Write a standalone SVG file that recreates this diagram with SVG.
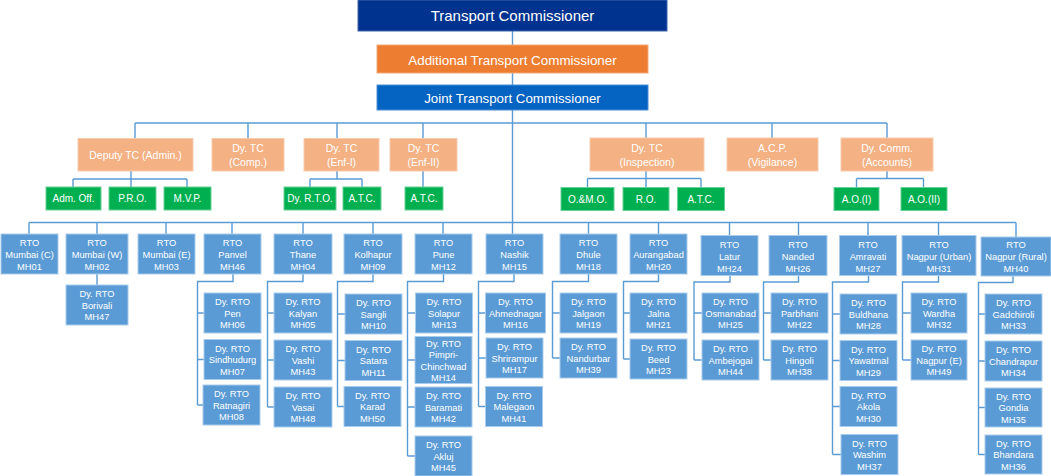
<svg xmlns="http://www.w3.org/2000/svg" width="1051" height="476" viewBox="0 0 1051 476">
<style>
.c{fill:none;stroke:#5B9BD5;stroke-width:1.4}
.b{fill:#5B9BD5;stroke:#A9CBEC;stroke-width:1}
.o{fill:#F4B183;stroke:#F8CBAD;stroke-width:1}
.g{fill:#00B050;stroke:#66D096;stroke-width:1}
text{font-family:"Liberation Sans",Arial,sans-serif;fill:#FFFFFF;text-anchor:middle}
.s{font-size:9.3px}
.m{font-size:10.5px}
.n{font-size:10px}
</style>
<rect width="1051" height="476" fill="#FFFFFF"/>
<g id="connectors">
<path class="c" d="M512.5,31V234"/>
<path class="c" d="M135,123H887M135,123V139M248,123V139M337,123V139M423,123V139M646,123V138M772,123V138M887,123V138"/>
<path class="c" d="M131,171V179M73,179H187M73,179V187M131,179V187M187,179V187"/>
<path class="c" d="M337,171V179M310,179H362M310,179V187M362,179V187"/>
<path class="c" d="M423,171V187"/>
<path class="c" d="M646,171V178.5M587.5,178.5H701M587.5,178.5V187.5M646,178.5V187.5M701,178.5V187.5"/>
<path class="c" d="M887,171V178.5M856.5,178.5H923.5M856.5,178.5V187.5M923.5,178.5V187.5"/>
<path class="c" d="M29,222.5H1016M29,222.5V234M97,222.5V234M166,222.5V234M232,222.5V234M303,222.5V234M373,222.5V234M443,222.5V234M588.5,222.5V234M658.5,222.5V234M729.5,222.5V235.5M798.5,222.5V235.5M868,222.5V235.5M938.5,222.5V235.5M1016,222.5V237"/>
<path class="c" d="M97,274V285"/>
<path class="c" d="M233,274V281.5H197.5V405M197.5,313H204M197.5,359.5H204M197.5,405H203"/>
<path class="c" d="M303,274V281.5H267.5V407M267.5,313H274M267.5,360H274M267.5,407H274"/>
<path class="c" d="M373,274V281.5H337.5V406.5M337.5,314H345M337.5,360.5H345M337.5,406.5H344"/>
<path class="c" d="M443.5,274V281.5H407.5V456M407.5,313H415.5M407.5,360H415M407.5,407H415M407.5,456H415"/>
<path class="c" d="M514,274V281.5H478.5V406.5M478.5,313H485.5M478.5,358H486M478.5,406.5H485.5"/>
<path class="c" d="M588.5,274V281.5H552.5V358M552.5,313H560M552.5,358H560"/>
<path class="c" d="M658.5,274V281.5H623.5V359M623.5,313H630M623.5,359H630"/>
<path class="c" d="M730,275.5V282H694V360M694,313H702M694,360H702"/>
<path class="c" d="M798.5,275.5V282H763.5V360M763.5,313H771M763.5,360H771"/>
<path class="c" d="M868.5,275.5V282H832.5V454.5M832.5,314H840M832.5,360.5H840M832.5,406.5H840M832.5,454.5H841"/>
<path class="c" d="M938.5,275.5V282H902.5V360M902.5,313H911M902.5,360H911"/>
<path class="c" d="M1013,276V282.5H978.5V454.5M978.5,314H985M978.5,361H985M978.5,407.5H985M978.5,454.5H985"/>
</g>
<g id="tc"><rect x="358" y="0" width="309" height="31" fill="#00338F" stroke="#3F64AE" stroke-width="1"/><text x="512.5" y="21" style="font-size:15px">Transport Commissioner</text></g>
<g id="atc"><rect x="377" y="45" width="271" height="28" fill="#ED7D31" stroke="#F3A877" stroke-width="1"/><text x="512.5" y="65" style="font-size:13.4px">Additional Transport Commissioner</text></g>
<g id="jtc"><rect x="377" y="85" width="271" height="25" fill="#0563C1" stroke="#4A8FD6" stroke-width="1"/><text x="512.5" y="103" style="font-size:13.3px">Joint Transport Commissioner</text></g>
<g id="dytc-admin"><rect class="o" x="78" y="138.5" width="115" height="32.5"/><text class="m" x="135.5" y="158.5">Deputy TC (Admin.)</text></g>
<g id="dytc-comp"><rect class="o" x="212" y="138.5" width="72" height="32.5"/><text class="m" x="248" y="152">Dy. TC<tspan x="248" dy="14.3">(Comp.)</tspan></text></g>
<g id="dytc-enf1"><rect class="o" x="304" y="138.5" width="75" height="32.5"/><text class="m" x="341.5" y="152">Dy. TC<tspan x="341.5" dy="14.3">(Enf-I)</tspan></text></g>
<g id="dytc-enf2"><rect class="o" x="390" y="138.5" width="67" height="32.5"/><text class="m" x="423.5" y="152">Dy. TC<tspan x="423.5" dy="14.3">(Enf-II)</tspan></text></g>
<g id="dytc-insp"><rect class="o" x="590" y="138" width="114" height="33"/><text class="m" x="647" y="151.5">Dy. TC<tspan x="647" dy="14.3">(Inspection)</tspan></text></g>
<g id="acp"><rect class="o" x="727" y="138" width="91" height="33"/><text class="m" x="772.5" y="151.5">A.C.P.<tspan x="772.5" dy="14.3">(Vigilance)</tspan></text></g>
<g id="dycomm"><rect class="o" x="841" y="138" width="92" height="33"/><text class="m" x="887" y="151.5">Dy. Comm.<tspan x="887" dy="14.3">(Accounts)</tspan></text></g>
<g id="admoff"><rect class="g" x="46" y="187" width="55" height="23"/><text class="n" x="73.5" y="202">Adm. Off.</text></g>
<g id="pro"><rect class="g" x="109" y="187" width="47" height="23"/><text class="n" x="132.5" y="202">P.R.O.</text></g>
<g id="mvp"><rect class="g" x="164" y="187" width="47" height="23"/><text class="n" x="187.5" y="202">M.V.P.</text></g>
<g id="dyrto"><rect class="g" x="284" y="187" width="52" height="23"/><text class="n" x="310" y="202">Dy. R.T.O.</text></g>
<g id="atc1"><rect class="g" x="343" y="187" width="38" height="23"/><text class="n" x="362" y="202">A.T.C.</text></g>
<g id="atc2"><rect class="g" x="405" y="187" width="38" height="23"/><text class="n" x="424" y="202">A.T.C.</text></g>
<g id="omo"><rect class="g" x="561" y="187.5" width="53" height="23"/><text class="n" x="587.5" y="202.5">O.&amp;M.O.</text></g>
<g id="ro"><rect class="g" x="623" y="187.5" width="46" height="23"/><text class="n" x="646" y="202.5">R.O.</text></g>
<g id="atc3"><rect class="g" x="677.5" y="187.5" width="47" height="23"/><text class="n" x="701" y="202.5">A.T.C.</text></g>
<g id="ao1"><rect class="g" x="834" y="187.5" width="45" height="23"/><text class="n" x="856.5" y="202.5">A.O.(I)</text></g>
<g id="ao2"><rect class="g" x="901" y="187.5" width="46" height="23"/><text class="n" x="924" y="202.5">A.O.(II)</text></g>
<g id="rto-mh01"><rect class="b" x="1" y="234" width="57" height="40"/><text class="s" x="29.5" y="246">RTO<tspan x="29.5" dy="12">Mumbai (C)</tspan><tspan x="29.5" dy="12">MH01</tspan></text></g>
<g id="rto-mh02"><rect class="b" x="66" y="234" width="62" height="40"/><text class="s" x="97" y="246">RTO<tspan x="97" dy="12">Mumbai (W)</tspan><tspan x="97" dy="12">MH02</tspan></text></g>
<g id="rto-mh03"><rect class="b" x="138" y="234" width="57" height="40"/><text class="s" x="166.5" y="246">RTO<tspan x="166.5" dy="12">Mumbai (E)</tspan><tspan x="166.5" dy="12">MH03</tspan></text></g>
<g id="rto-mh46"><rect class="b" x="204" y="234" width="57" height="40"/><text class="s" x="232.5" y="246">RTO<tspan x="232.5" dy="12">Panvel</tspan><tspan x="232.5" dy="12">MH46</tspan></text></g>
<g id="rto-mh04"><rect class="b" x="274" y="234" width="58" height="40"/><text class="s" x="303" y="246">RTO<tspan x="303" dy="12">Thane</tspan><tspan x="303" dy="12">MH04</tspan></text></g>
<g id="rto-mh09"><rect class="b" x="344" y="234" width="58" height="40"/><text class="s" x="373" y="246">RTO<tspan x="373" dy="12">Kolhapur</tspan><tspan x="373" dy="12">MH09</tspan></text></g>
<g id="rto-mh12"><rect class="b" x="415" y="234" width="57" height="40"/><text class="s" x="443.5" y="246">RTO<tspan x="443.5" dy="12">Pune</tspan><tspan x="443.5" dy="12">MH12</tspan></text></g>
<g id="rto-mh15"><rect class="b" x="486" y="234" width="57" height="40"/><text class="s" x="514.5" y="246">RTO<tspan x="514.5" dy="12">Nashik</tspan><tspan x="514.5" dy="12">MH15</tspan></text></g>
<g id="rto-mh18"><rect class="b" x="560" y="234" width="57" height="40"/><text class="s" x="588.5" y="246">RTO<tspan x="588.5" dy="12">Dhule</tspan><tspan x="588.5" dy="12">MH18</tspan></text></g>
<g id="rto-mh20"><rect class="b" x="630" y="234" width="57" height="40"/><text class="s" x="658.5" y="246">RTO<tspan x="658.5" dy="12">Aurangabad</tspan><tspan x="658.5" dy="12">MH20</tspan></text></g>
<g id="rto-mh24"><rect class="b" x="701" y="235.5" width="57" height="40"/><text class="s" x="729.5" y="247.5">RTO<tspan x="729.5" dy="12">Latur</tspan><tspan x="729.5" dy="12">MH24</tspan></text></g>
<g id="rto-mh26"><rect class="b" x="769" y="235.5" width="58" height="40"/><text class="s" x="798" y="247.5">RTO<tspan x="798" dy="12">Nanded</tspan><tspan x="798" dy="12">MH26</tspan></text></g>
<g id="rto-mh27"><rect class="b" x="839.5" y="235.5" width="57" height="40"/><text class="s" x="868" y="247.5">RTO<tspan x="868" dy="12">Amravati</tspan><tspan x="868" dy="12">MH27</tspan></text></g>
<g id="rto-mh31"><rect class="b" x="902" y="235.5" width="74" height="40"/><text class="s" x="939" y="247.5">RTO<tspan x="939" dy="12">Nagpur (Urban)</tspan><tspan x="939" dy="12">MH31</tspan></text></g>
<g id="rto-mh40"><rect class="b" x="981" y="237" width="70" height="39"/><text class="s" x="1016" y="248">RTO<tspan x="1016" dy="12.2">Nagpur (Rural)</tspan><tspan x="1016" dy="12.2">MH40</tspan></text></g>
<g id="dyrto-mh47"><rect class="b" x="66" y="285" width="62" height="40"/><text class="s" x="97" y="297">Dy. RTO<tspan x="97" dy="11.7">Borivali</tspan><tspan x="97" dy="11.7">MH47</tspan></text></g>
<g id="dyrto-mh06"><rect class="b" x="204" y="293" width="57" height="40"/><text class="s" x="232.5" y="305">Dy. RTO<tspan x="232.5" dy="11.7">Pen</tspan><tspan x="232.5" dy="11.7">MH06</tspan></text></g>
<g id="dyrto-mh07"><rect class="b" x="204" y="339.5" width="57" height="40"/><text class="s" x="232.5" y="351.5">Dy. RTO<tspan x="232.5" dy="11.7">Sindhudurg</tspan><tspan x="232.5" dy="11.7">MH07</tspan></text></g>
<g id="dyrto-mh08"><rect class="b" x="203" y="385" width="57" height="40"/><text class="s" x="231.5" y="397">Dy. RTO<tspan x="231.5" dy="11.7">Ratnagiri</tspan><tspan x="231.5" dy="11.7">MH08</tspan></text></g>
<g id="dyrto-mh05"><rect class="b" x="274" y="293" width="58" height="40"/><text class="s" x="303" y="305">Dy. RTO<tspan x="303" dy="11.7">Kalyan</tspan><tspan x="303" dy="11.7">MH05</tspan></text></g>
<g id="dyrto-mh43"><rect class="b" x="274" y="340" width="58" height="40"/><text class="s" x="303" y="352">Dy. RTO<tspan x="303" dy="11.7">Vashi</tspan><tspan x="303" dy="11.7">MH43</tspan></text></g>
<g id="dyrto-mh48"><rect class="b" x="274" y="387" width="58" height="40"/><text class="s" x="303" y="399">Dy. RTO<tspan x="303" dy="11.7">Vasai</tspan><tspan x="303" dy="11.7">MH48</tspan></text></g>
<g id="dyrto-mh10"><rect class="b" x="345" y="294" width="57" height="40"/><text class="s" x="373.5" y="306">Dy. RTO<tspan x="373.5" dy="11.7">Sangli</tspan><tspan x="373.5" dy="11.7">MH10</tspan></text></g>
<g id="dyrto-mh11"><rect class="b" x="345" y="340.5" width="57" height="40"/><text class="s" x="373.5" y="352.5">Dy. RTO<tspan x="373.5" dy="11.7">Satara</tspan><tspan x="373.5" dy="11.7">MH11</tspan></text></g>
<g id="dyrto-mh50"><rect class="b" x="344" y="386.5" width="57" height="40"/><text class="s" x="372.5" y="398.5">Dy. RTO<tspan x="372.5" dy="11.7">Karad</tspan><tspan x="372.5" dy="11.7">MH50</tspan></text></g>
<g id="dyrto-mh13"><rect class="b" x="415.5" y="293" width="57" height="40"/><text class="s" x="444" y="305">Dy. RTO<tspan x="444" dy="11.7">Solapur</tspan><tspan x="444" dy="11.7">MH13</tspan></text></g>
<g id="dyrto-mh14"><rect class="b" x="415" y="336.5" width="57" height="47"/><text class="s" x="443.5" y="346.5">Dy. RTO<tspan x="443.5" dy="11.5">Pimpri-</tspan><tspan x="443.5" dy="11.5">Chinchwad</tspan><tspan x="443.5" dy="11.5">MH14</tspan></text></g>
<g id="dyrto-mh42"><rect class="b" x="415" y="387" width="57" height="40"/><text class="s" x="443.5" y="399">Dy. RTO<tspan x="443.5" dy="11.7">Baramati</tspan><tspan x="443.5" dy="11.7">MH42</tspan></text></g>
<g id="dyrto-mh45"><rect class="b" x="415" y="436" width="57" height="40"/><text class="s" x="443.5" y="448">Dy. RTO<tspan x="443.5" dy="11.7">Akluj</tspan><tspan x="443.5" dy="11.7">MH45</tspan></text></g>
<g id="dyrto-mh16"><rect class="b" x="485.5" y="293" width="60" height="40"/><text class="s" x="515.5" y="305">Dy. RTO<tspan x="515.5" dy="11.7">Ahmednagar</tspan><tspan x="515.5" dy="11.7">MH16</tspan></text></g>
<g id="dyrto-mh17"><rect class="b" x="486" y="338" width="57" height="40"/><text class="s" x="514.5" y="350">Dy. RTO<tspan x="514.5" dy="11.7">Shrirampur</tspan><tspan x="514.5" dy="11.7">MH17</tspan></text></g>
<g id="dyrto-mh41"><rect class="b" x="485.5" y="386.5" width="57" height="40"/><text class="s" x="514" y="398.5">Dy. RTO<tspan x="514" dy="11.7">Malegaon</tspan><tspan x="514" dy="11.7">MH41</tspan></text></g>
<g id="dyrto-mh19"><rect class="b" x="560" y="293" width="57" height="40"/><text class="s" x="588.5" y="305">Dy. RTO<tspan x="588.5" dy="11.7">Jalgaon</tspan><tspan x="588.5" dy="11.7">MH19</tspan></text></g>
<g id="dyrto-mh39"><rect class="b" x="560" y="338" width="57" height="40"/><text class="s" x="588.5" y="350">Dy. RTO<tspan x="588.5" dy="11.7">Nandurbar</tspan><tspan x="588.5" dy="11.7">MH39</tspan></text></g>
<g id="dyrto-mh21"><rect class="b" x="630" y="293" width="57" height="40"/><text class="s" x="658.5" y="305">Dy. RTO<tspan x="658.5" dy="11.7">Jalna</tspan><tspan x="658.5" dy="11.7">MH21</tspan></text></g>
<g id="dyrto-mh23"><rect class="b" x="630" y="339" width="57" height="40"/><text class="s" x="658.5" y="351">Dy. RTO<tspan x="658.5" dy="11.7">Beed</tspan><tspan x="658.5" dy="11.7">MH23</tspan></text></g>
<g id="dyrto-mh25"><rect class="b" x="702" y="293" width="57" height="40"/><text class="s" x="730.5" y="305">Dy. RTO<tspan x="730.5" dy="11.7">Osmanabad</tspan><tspan x="730.5" dy="11.7">MH25</tspan></text></g>
<g id="dyrto-mh44"><rect class="b" x="702" y="340" width="57" height="40"/><text class="s" x="730.5" y="352">Dy. RTO<tspan x="730.5" dy="11.7">Ambejogai</tspan><tspan x="730.5" dy="11.7">MH44</tspan></text></g>
<g id="dyrto-mh22"><rect class="b" x="771" y="293" width="57" height="40"/><text class="s" x="799.5" y="305">Dy. RTO<tspan x="799.5" dy="11.7">Parbhani</tspan><tspan x="799.5" dy="11.7">MH22</tspan></text></g>
<g id="dyrto-mh38"><rect class="b" x="771" y="340" width="57" height="40"/><text class="s" x="799.5" y="352">Dy. RTO<tspan x="799.5" dy="11.7">Hingoli</tspan><tspan x="799.5" dy="11.7">MH38</tspan></text></g>
<g id="dyrto-mh28"><rect class="b" x="840" y="294" width="57" height="40"/><text class="s" x="868.5" y="306">Dy. RTO<tspan x="868.5" dy="11.7">Buldhana</tspan><tspan x="868.5" dy="11.7">MH28</tspan></text></g>
<g id="dyrto-mh29"><rect class="b" x="840" y="340.5" width="57" height="40"/><text class="s" x="868.5" y="352.5">Dy. RTO<tspan x="868.5" dy="11.7">Yawatmal</tspan><tspan x="868.5" dy="11.7">MH29</tspan></text></g>
<g id="dyrto-mh30"><rect class="b" x="840" y="386.5" width="57" height="40"/><text class="s" x="868.5" y="398.5">Dy. RTO<tspan x="868.5" dy="11.7">Akola</tspan><tspan x="868.5" dy="11.7">MH30</tspan></text></g>
<g id="dyrto-mh37"><rect class="b" x="841" y="434.5" width="57" height="40"/><text class="s" x="869.5" y="446.5">Dy. RTO<tspan x="869.5" dy="11.7">Washim</tspan><tspan x="869.5" dy="11.7">MH37</tspan></text></g>
<g id="dyrto-mh32"><rect class="b" x="911" y="293" width="56" height="40"/><text class="s" x="939" y="305">Dy. RTO<tspan x="939" dy="11.7">Wardha</tspan><tspan x="939" dy="11.7">MH32</tspan></text></g>
<g id="dyrto-mh49"><rect class="b" x="911" y="340" width="56" height="40"/><text class="s" x="939" y="352">Dy. RTO<tspan x="939" dy="11.7">Nagpur (E)</tspan><tspan x="939" dy="11.7">MH49</tspan></text></g>
<g id="dyrto-mh33"><rect class="b" x="985" y="294" width="57" height="40"/><text class="s" x="1013.5" y="306">Dy. RTO<tspan x="1013.5" dy="11.7">Gadchiroli</tspan><tspan x="1013.5" dy="11.7">MH33</tspan></text></g>
<g id="dyrto-mh34"><rect class="b" x="985" y="341" width="57" height="40"/><text class="s" x="1013.5" y="353">Dy. RTO<tspan x="1013.5" dy="11.7">Chandrapur</tspan><tspan x="1013.5" dy="11.7">MH34</tspan></text></g>
<g id="dyrto-mh35"><rect class="b" x="985" y="388" width="57" height="39"/><text class="s" x="1013.5" y="399.5">Dy. RTO<tspan x="1013.5" dy="11.7">Gondia</tspan><tspan x="1013.5" dy="11.7">MH35</tspan></text></g>
<g id="dyrto-mh36"><rect class="b" x="985" y="435" width="57" height="39"/><text class="s" x="1013.5" y="446.5">Dy. RTO<tspan x="1013.5" dy="11.7">Bhandara</tspan><tspan x="1013.5" dy="11.7">MH36</tspan></text></g>
</svg>
